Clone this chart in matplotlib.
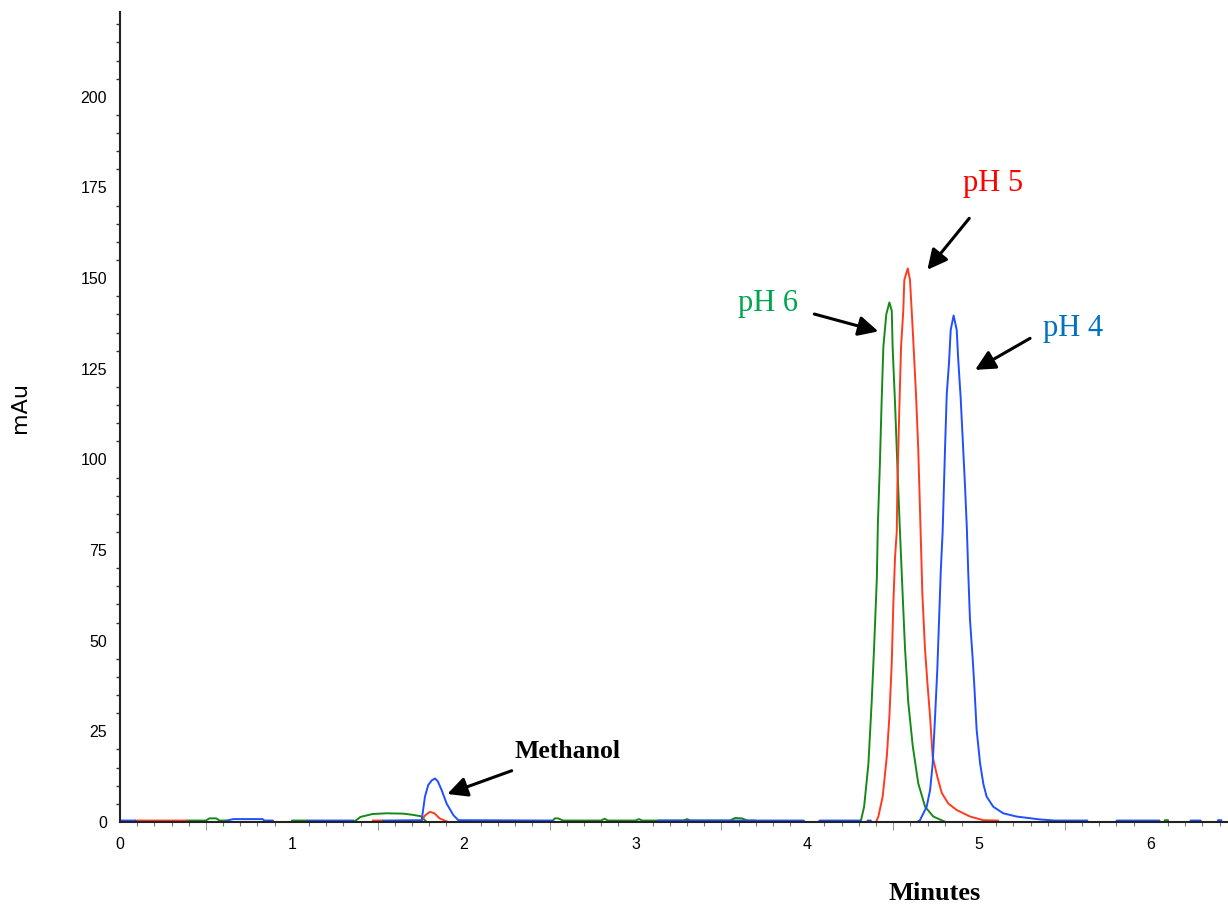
import matplotlib
matplotlib.use("Agg")
import matplotlib.pyplot as plt
from matplotlib.ticker import FixedLocator, NullFormatter

# ---- chromatogram traces (time in minutes, absorbance in mAu) ----
ph4_time = [0.0, 0.09, 0.091, 0.62, 0.621, 0.66, 0.67, 0.83, 0.84, 0.89, 0.891,
            1.09, 1.091, 1.36, 1.361, 1.53, 1.531, 1.756, 1.775, 1.794, 1.815,
            1.834, 1.85, 1.872, 1.901, 1.940, 1.969, 2.52, 2.521, 3.13, 3.131,
            3.98, 3.981, 4.07, 4.071, 4.31, 4.311, 4.35, 4.351, 4.37, 4.371,
            4.64, 4.656, 4.695, 4.715, 4.730, 4.744, 4.757, 4.769, 4.777, 4.788,
            4.802, 4.812, 4.825, 4.835, 4.852, 4.870, 4.879, 4.893, 4.908, 4.918,
            4.929, 4.937, 4.947, 4.963, 4.972, 4.986, 5.006, 5.025, 5.044,
            5.083, 5.141, 5.219, 5.355, 5.442, 5.63, 5.631, 5.80, 5.801, 6.05,
            6.051, 6.23, 6.231, 6.29, 6.291, 6.39, 6.391, 6.41, 6.411, 6.45]
ph4_mau = [0.4, 0.4, 0.0, 0.0, 0.4, 0.8, 0.8, 0.8, 0.4, 0.4, 0.0,
           0.0, 0.4, 0.4, 0.0, 0.0, 0.4, 0.5, 7.0, 10.2, 11.5,
           12.0, 11.2, 8.8, 5.1, 1.9, 0.5, 0.4, 0.0, 0.0, 0.4,
           0.4, 0.0, 0.0, 0.4, 0.4, 0.0, 0.0, 0.4, 0.4, 0.0,
           0.0, 0.5, 4.2, 8.8, 16.0, 29.0, 42.0, 58.0, 69.0, 80.0,
           103.0, 118.0, 126.5, 135.7, 139.7, 135.7, 127.4, 117.0, 102.6, 93.0,
           81.0, 69.0, 56.0, 45.0, 38.0, 25.4, 16.2, 10.5, 7.0,
           4.2, 2.4, 1.5, 0.7, 0.4, 0.4, 0.0, 0.0, 0.4, 0.4,
           0.0, 0.0, 0.4, 0.4, 0.0, 0.0, 0.5, 0.5, 0.0, 0.0]

ph5_time = [0.0, 0.087, 0.088, 0.39, 0.391, 1.47, 1.471, 1.53, 1.531, 1.756,
            1.775, 1.804, 1.83, 1.86, 1.90, 1.91, 4.40, 4.414, 4.439, 4.463,
            4.478, 4.492, 4.501, 4.511, 4.521, 4.525, 4.536, 4.546, 4.559, 4.565,
            4.585, 4.598, 4.608, 4.617, 4.633, 4.646, 4.660, 4.670, 4.685, 4.700,
            4.715, 4.730, 4.757, 4.783, 4.821, 4.870, 4.948, 5.025, 5.11]
ph5_mau = [0.0, 0.0, 0.4, 0.4, 0.0, 0.0, 0.4, 0.4, 0.0, 0.3,
           1.8, 2.8, 2.4, 1.0, 0.2, 0.0, 0.0, 1.5, 7.0, 18.0,
           29.0, 44.0, 60.0, 73.0, 80.0, 93.5, 114.0, 131.0, 141.0, 149.5,
           152.7, 149.5, 141.0, 133.0, 118.0, 103.0, 80.0, 63.0, 48.0, 38.0,
           29.0, 18.0, 12.5, 8.0, 5.1, 3.3, 1.5, 0.5, 0.4]

ph6_time = [0.0, 0.389, 0.39, 0.50, 0.52, 0.56, 0.58, 0.62, 0.621, 1.0,
            1.001, 1.09, 1.091, 1.36, 1.40, 1.47, 1.55, 1.65, 1.70, 1.75,
            1.785, 2.52, 2.521, 2.53, 2.55, 2.58, 2.60, 2.80, 2.82, 2.84,
            3.00, 3.02, 3.04, 3.13, 3.28, 3.30, 3.32, 3.55, 3.58, 3.62,
            3.65, 3.70, 3.701, 4.30, 4.313, 4.331, 4.356, 4.375, 4.389, 4.405,
            4.411, 4.423, 4.433, 4.443, 4.460, 4.478, 4.492, 4.497, 4.511, 4.524,
            4.538, 4.556, 4.569, 4.588, 4.614, 4.646, 4.686, 4.734, 4.80, 4.81,
            6.08, 6.081, 6.10, 6.101, 6.45]
ph6_mau = [0.0, 0.0, 0.4, 0.4, 1.0, 1.0, 0.4, 0.4, 0.0, 0.0,
           0.4, 0.4, 0.0, 0.0, 1.4, 2.2, 2.4, 2.3, 2.0, 1.6,
           0.0, 0.0, 0.4, 1.0, 1.0, 0.4, 0.4, 0.4, 0.9, 0.4,
           0.4, 0.8, 0.4, 0.4, 0.4, 0.8, 0.4, 0.4, 1.1, 1.0,
           0.4, 0.4, 0.0, 0.0, 0.5, 4.2, 16.0, 33.0, 48.0, 67.0,
           82.0, 99.0, 116.0, 131.0, 140.0, 143.3, 141.0, 131.0, 115.5, 99.0,
           82.0, 62.0, 48.0, 33.0, 21.0, 10.7, 4.2, 1.5, 0.1, 0.0,
           0.0, 0.5, 0.5, 0.0, 0.0]

x_major = [0, 1, 2, 3, 4, 5, 6]
y_major = [0, 25, 50, 75, 100, 125, 150, 175, 200]

trace_colors = {"pH 4": "#1f4fff", "pH 5": "#ff3b1f", "pH 6": "#168a16"}
label_colors = {"pH 4": "#0070c0", "pH 5": "#ff0000", "pH 6": "#00a64f"}

W, H = 1228, 905
fig = plt.figure(figsize=(W / 100, H / 100), dpi=100)
ax = fig.add_axes([120 / W, (H - 822) / H, (W - 120) / W, (822 - 12) / H])

ax.plot(ph6_time, ph6_mau, color=trace_colors["pH 6"], lw=1.4)
ax.plot(ph5_time, ph5_mau, color=trace_colors["pH 5"], lw=1.4)
ax.plot(ph4_time, ph4_mau, color=trace_colors["pH 4"], lw=1.4)

ax.set_xlim(0, 6.449)
ax.set_ylim(0, 223.4)

for side in ("top", "right"):
    ax.spines[side].set_visible(False)
for side in ("left", "bottom"):
    ax.spines[side].set_color("#222222")
    ax.spines[side].set_linewidth(1.5)

tick_font = dict(family="Liberation Sans", size=11.5)

# x axis: unticked integer labels, short minor ticks every 0.1, longer ticks at halves
ax.set_xticks(x_major)
ax.set_xticklabels([str(v) for v in x_major], **tick_font)
ax.tick_params(axis="x", which="major", length=0, pad=11)
x_minor = [i / 10 for i in range(1, 65) if i % 5 != 0]
ax.xaxis.set_minor_locator(FixedLocator(x_minor))
ax.tick_params(axis="x", which="minor", length=3.2, width=0.8, color="#777777")
halves = [i + 0.5 for i in range(0, 7) if i + 0.5 < 6.449]
sec = ax.secondary_xaxis("bottom")
sec.set_xticks(halves)
sec.xaxis.set_major_formatter(NullFormatter())
sec.tick_params(axis="x", length=5.8, width=0.8, color="#999999")
sec.spines["bottom"].set_visible(False)

# y axis: labels every 25, ticks every 5 between them
ax.set_yticks(y_major)
ax.set_yticklabels([str(v) for v in y_major], **tick_font)
ax.tick_params(axis="y", which="major", length=0, pad=9.4)
y_minor = [v for v in range(5, 225, 5) if v % 25 != 0]
ax.yaxis.set_minor_locator(FixedLocator(y_minor))
ax.tick_params(axis="y", which="minor", length=2.8, width=1.0, color="#333333")

fig.text(20 / W, 1 - 407 / H, "mAu", rotation=90, ha="center", va="center",
         family="DejaVu Sans", fontsize=16)
fig.text(935 / W, 1 - 900 / H, "Minutes", ha="center", va="baseline",
         family="Liberation Serif", fontweight="bold", fontsize=19)

arrow_style = dict(arrowstyle="-|>,head_length=0.6,head_width=0.3",
                   mutation_scale=20, lw=2.2, color="black",
                   shrinkA=0, shrinkB=0)

serif = "Liberation Serif"
ax.text(4.907, 173.9, "pH 5", color=label_colors["pH 5"], family=serif,
        fontsize=22, va="baseline", ha="left")
ax.annotate("", xy=(4.699, 152.3), xytext=(4.943, 166.5), arrowprops=arrow_style)

ax.text(3.597, 140.8, "pH 6", color=label_colors["pH 6"], family=serif,
        fontsize=22, va="baseline", ha="left")
ax.annotate("", xy=(4.414, 135.3), xytext=(4.041, 140.1), arrowprops=arrow_style)

ax.text(5.372, 134.1, "pH 4", color=label_colors["pH 4"], family=serif,
        fontsize=22, va="baseline", ha="left")
ax.annotate("", xy=(4.977, 124.7), xytext=(5.297, 133.4), arrowprops=arrow_style)

ax.text(2.299, 17.66, "Methanol", color="black", family=serif, fontweight="bold",
        fontsize=18.5, va="baseline", ha="left")
ax.annotate("", xy=(1.905, 7.72), xytext=(2.280, 14.15), arrowprops=arrow_style)

fig.savefig("out.png", dpi=100)
